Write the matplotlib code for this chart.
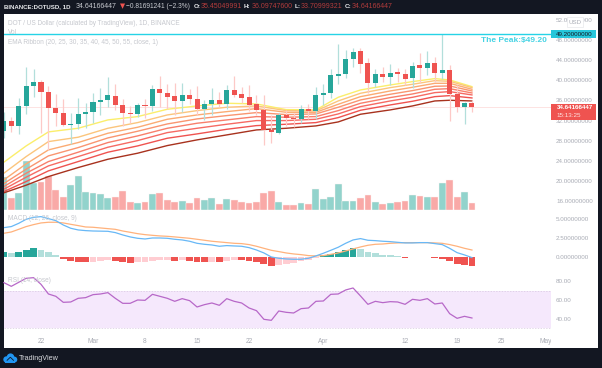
"""
DOT / USD daily chart with EMA ribbon, volume, MACD and RSI panes.
Output: out.png
"""
import matplotlib
matplotlib.use("Agg")
import matplotlib.pyplot as plt
from matplotlib.patches import Rectangle, Ellipse, Polygon
from matplotlib.transforms import Bbox, TransformedBbox

W, H = 602, 368
plt.rcParams['font.family'] = ['Liberation Sans', 'DejaVu Sans']

# === Data (day 0 = 22 Feb) ===
days = list(range(-5, 59))
opens = [29.93, 31.92, 30.99, 34.83, 38.94, 39.60, 37.68, 34.50, 33.58, 31.13, 31.32, 33.38, 33.71, 35.63, 36.09,
         36.95, 35.10, 33.58, 33.31, 35.03, 34.90, 38.21, 37.55, 36.89, 35.96, 37.02, 36.36, 34.24, 35.30, 36.09,
         35.23, 38.15, 37.22, 36.69, 35.23, 34.17, 30.20, 29.60, 33.11, 32.52, 32.25, 34.30, 33.91, 37.02, 37.42,
         40.93, 41.32, 44.24, 45.76, 43.38, 39.47, 41.32, 40.73, 41.59, 41.26, 40.40, 42.98, 42.38, 43.44, 41.39,
         42.05, 37.35, 34.77, 35.45]
highs = [33.77, 32.78, 36.56, 42.65, 42.32, 40.07, 38.87, 37.22, 36.29, 33.58, 36.49, 35.43, 37.48, 38.48, 40.73,
         39.34, 36.29, 34.90, 35.56, 36.29, 39.07, 40.86, 39.27, 39.40, 39.40, 38.28, 38.87, 36.09, 38.54, 37.75,
         39.07, 40.86, 38.61, 39.07, 37.09, 37.09, 33.11, 33.44, 34.11, 33.44, 35.10, 35.30, 38.74, 39.27, 42.19,
         47.22, 46.03, 46.49, 46.49, 44.37, 42.25, 42.72, 43.25, 42.38, 42.19, 43.64, 45.36, 45.89, 44.57, 49.20,
         42.98, 39.07, 35.76, 36.10]
lows = [28.54, 29.80, 29.27, 33.38, 36.75, 29.47, 26.16, 30.93, 30.93, 27.35, 30.40, 30.46, 31.46, 33.11, 34.64,
        34.11, 30.93, 31.59, 32.78, 32.45, 33.97, 34.77, 34.24, 33.11, 33.77, 35.30, 33.11, 32.12, 33.11, 34.77,
        34.24, 36.75, 35.43, 33.97, 33.11, 27.15, 27.48, 29.34, 30.93, 30.79, 31.46, 32.38, 32.25, 35.10, 36.42,
        39.21, 40.40, 42.72, 41.39, 37.42, 38.61, 39.74, 39.07, 39.60, 39.07, 38.41, 39.40, 41.06, 39.60, 40.20,
        31.99, 33.77, 31.32, 33.71]
closes = [31.92, 30.99, 34.83, 38.87, 39.60, 37.62, 34.44, 33.58, 31.13, 31.39, 33.38, 33.77, 35.63, 36.09, 37.02,
          35.03, 33.44, 33.31, 35.03, 34.90, 38.21, 37.48, 36.75, 35.89, 37.02, 36.36, 34.24, 35.36, 36.09, 35.23,
          38.15, 37.15, 36.56, 35.03, 34.17, 30.20, 29.67, 33.18, 32.45, 32.25, 34.24, 33.91, 37.02, 37.42, 40.99,
          41.32, 44.17, 45.70, 43.25, 39.47, 41.32, 40.73, 41.52, 41.26, 40.33, 42.91, 42.38, 43.44, 41.46, 42.05,
          37.35, 34.70, 35.43, 34.64]

# relative volume, no scale is shown for it on the chart
volume = [33.0, 12.3, 16.7, 49.0, 27.3, 28.3, 34.3, 20.0, 12.7, 25.0, 34.3, 17.7, 16.7, 15.7, 12.3,
          12.7, 19.0, 8.0, 7.3, 8.0, 15.7, 17.0, 10.0, 8.3, 9.0, 6.7, 12.3, 10.0, 12.0, 6.0,
          11.0, 9.7, 8.0, 7.3, 8.3, 17.0, 19.3, 7.7, 5.0, 4.7, 6.7, 5.7, 20.7, 11.0, 13.3,
          25.7, 9.3, 9.0, 12.3, 15.0, 7.7, 5.7, 6.7, 8.0, 9.0, 14.7, 14.3, 13.3, 12.7, 27.0,
          30.3, 12.7, 17.7, 6.7]

ema_days = [-5, -2, 1, 5, 9, 13, 17, 21, 25, 29, 33, 37, 40, 43, 47, 50, 53, 55, 58]
ema20 = [23.71, 26.95, 29.74, 30.46, 32.12, 32.78, 34.24, 34.90, 35.43, 35.30, 34.17, 34.11, 36.62, 38.08, 39.07, 39.74, 40.33, 40.07, 38.74]
ema25 = [21.52, 24.83, 27.81, 28.68, 30.46, 31.59, 33.11, 33.97, 34.64, 34.90, 33.97, 33.91, 35.89, 37.42, 38.54, 39.21, 39.93, 39.80, 38.54]
ema30 = [20.20, 23.38, 26.16, 27.62, 29.47, 30.66, 32.25, 33.11, 33.77, 34.37, 33.64, 33.64, 35.23, 36.75, 37.88, 38.61, 39.40, 39.40, 38.21]
ema35 = [19.47, 22.32, 24.97, 26.62, 28.54, 29.87, 31.32, 32.32, 32.98, 33.58, 33.18, 33.31, 34.64, 36.09, 37.22, 37.95, 38.81, 38.87, 37.88]
ema40 = [18.87, 21.52, 23.84, 25.70, 27.62, 28.94, 30.46, 31.46, 32.12, 32.78, 32.65, 32.78, 33.97, 35.43, 36.56, 37.28, 38.21, 38.34, 37.48]
ema45 = [18.34, 20.73, 22.98, 24.83, 26.69, 28.01, 29.60, 30.46, 31.26, 31.99, 31.99, 32.25, 33.31, 34.77, 35.89, 36.62, 37.55, 37.75, 37.09]
ema50 = [17.88, 19.87, 21.99, 23.84, 25.70, 26.95, 28.48, 29.34, 30.26, 30.99, 31.26, 31.59, 32.58, 34.04, 35.10, 35.83, 36.75, 36.95, 36.49]
ema55 = [17.62, 19.14, 20.86, 22.65, 24.30, 25.50, 27.02, 28.15, 29.14, 30.13, 30.46, 30.93, 31.72, 33.25, 34.11, 34.90, 35.89, 36.03, 35.89]

macd = [3.90, 4.04, 4.47, 5.00, 5.26, 5.35, 5.09, 4.82, 4.25, 3.82, 3.60, 3.51, 3.46, 3.44, 3.42, 3.25,
        2.94, 2.68, 2.50, 2.41, 2.54, 2.54, 2.50, 2.37, 2.28, 2.11, 1.84, 1.71, 1.62, 1.45, 1.54, 1.49,
        1.45, 1.27, 0.96, 0.57, 0.04, -0.13, -0.22, -0.26, -0.26, -0.13, 0.18, 0.53, 0.92, 1.32, 1.84, 2.28,
        2.46, 2.24, 2.19, 2.11, 2.06, 1.97, 1.89, 1.89, 1.93, 1.93, 1.80, 1.67, 1.18, 0.61, 0.31, -0.04]
signal = [3.16, 3.33, 3.68, 4.04, 4.30, 4.52, 4.61, 4.61, 4.52, 4.34, 4.17, 3.99, 3.95, 3.86, 3.77, 3.68,
          3.46, 3.29, 3.11, 2.98, 2.89, 2.81, 2.76, 2.68, 2.59, 2.50, 2.37, 2.24, 2.11, 2.02, 1.93, 1.84,
          1.80, 1.67, 1.45, 1.18, 0.92, 0.75, 0.57, 0.44, 0.35, 0.22, 0.18, 0.22, 0.39, 0.57, 0.83, 1.10,
          1.36, 1.58, 1.71, 1.75, 1.84, 1.89, 1.93, 1.93, 1.93, 1.93, 1.89, 1.84, 1.67, 1.45, 1.18, 0.96]
hist = [0.70, 0.57, 0.75, 1.01, 1.18, 1.01, 0.66, 0.26, -0.18, -0.53, -0.61, -0.64, -0.57, -0.48, -0.31, -0.44,
        -0.61, -0.79, -0.66, -0.61, -0.44, -0.35, -0.31, -0.44, -0.35, -0.44, -0.61, -0.66, -0.57, -0.61, -0.44, -0.35,
        -0.39, -0.48, -0.57, -0.92, -1.10, -0.96, -0.88, -0.79, -0.48, -0.35, -0.04, 0.26, 0.44, 0.66, 0.92, 1.18,
        1.05, 0.70, 0.53, 0.35, 0.26, 0.13, -0.04, 0.09, 0.04, 0.04, -0.13, -0.18, -0.53, -0.92, -1.05, -1.18]

rsi = [78.57, 74.64, 78.93, 83.21, 83.93, 76.79, 66.43, 63.93, 57.50, 57.86, 61.79, 62.50, 65.71, 66.43, 67.86, 61.79,
       56.43, 56.43, 60.00, 59.64, 66.07, 63.93, 61.79, 58.57, 61.43, 59.29, 52.50, 55.00, 56.79, 54.29, 61.43, 58.57,
       56.79, 51.43, 48.57, 39.29, 38.21, 48.21, 46.79, 46.07, 50.71, 51.43, 58.57, 58.93, 66.07, 66.43, 70.71, 72.86,
       64.29, 55.36, 58.57, 57.14, 58.21, 57.86, 55.36, 60.71, 59.64, 61.43, 55.71, 56.79, 45.36, 40.36, 42.50, 40.71]

price_ticks = [16, 20, 24, 28, 32, 36, 40, 44, 48, 52]
macd_ticks = [0, 2.5, 5]
rsi_ticks = [40, 60, 80]
date_ticks = [0, 7, 14, 21, 28, 38, 49, 56, 62, 68]
date_labels = ['22', 'Mar', '8', '15', '22', 'Apr', '12', '19', '25', 'May']
peak = 49.20
last_close = 34.64166447

# === Colours ===
BG = '#131722'
UP, DOWN = '#26a69a', '#ef5350'
UP_WICK, DOWN_WICK = '#b2dfdb', '#fdc9c7'
UP_VOL, DOWN_VOL = '#92d3cc', '#f9a9a7'
UP_PALE, DOWN_PALE = '#b2dfdb', '#ffcdd2'
CYAN = '#26d3e6'
AXIS_TXT = '#a9acb5'
LEGEND_TXT = '#c6c8ce'
EMA_COLORS = ['#fbee6b', '#fbc57c', '#fbab73', '#f99570', '#f87f6b', '#f66a63', '#ef5350', '#a8321e']

fig = plt.figure(figsize=(W / 100, H / 100), dpi=100, facecolor=BG)


def fx(px):
    return px / W


def fy(py):
    return 1 - py / H


def pane(left, top, right, bottom):
    ax = fig.add_axes([fx(left), fy(bottom), (right - left) / W, (bottom - top) / H])
    ax.patch.set_alpha(0)
    for s in ax.spines.values():
        s.set_visible(False)
    ax.set_xlim(-4.98, 68.64)
    ax.set_xticks([])
    ax.yaxis.tick_right()
    ax.tick_params(axis='y', length=0, pad=3.6, labelsize=4.5, labelcolor=AXIS_TXT)
    return ax


# white chart panel behind all panes
fig.add_artist(Rectangle((fx(4), fy(347.5)), 594 / W, 333.5 / H, transform=fig.transFigure,
                         facecolor='white', edgecolor='none', zorder=-1))

# === Volume ===
ax_vol = pane(4, 14, 551, 210)
ax_vol.set_ylim(0, 196)
ax_vol.set_yticks([])
vol_colors = [UP_VOL if c >= o else DOWN_VOL for o, c in zip(opens, closes)]
ax_vol.bar(days, volume, width=0.92, color=vol_colors, edgecolor='#fdf3f2', linewidth=0.3)

# === Price ===
ax = pane(4, 14, 551, 210)
ax.set_ylim(14.21, 53.18)
ax.set_yticks(price_ticks)
ax.set_yticklabels([f'{t:.8f}' for t in price_ticks])
ax.axhline(last_close, color='#fde3e2', linewidth=0.7, zorder=1)

for vals, col in zip([ema20, ema25, ema30, ema35, ema40, ema45, ema50, ema55], EMA_COLORS):
    ax.plot(ema_days, vals, color=col, linewidth=1.0, zorder=2)

for d, o, h, l, c in zip(days, opens, highs, lows, closes):
    up = c >= o
    ax.vlines(d, l, h, color=UP_WICK if up else DOWN_WICK, linewidth=0.9, zorder=3)
    ax.bar(d, abs(c - o), bottom=min(o, c), width=0.68, color=UP if up else DOWN, zorder=4)

ax.axhline(peak, color=CYAN, linewidth=1.0, zorder=5)
ax.text(68.06, peak - 1.19, 'The Peak:$49.20', color='#45d3e4', fontsize=6.0, fontweight='bold',
        ha='right', va='center', zorder=6)

# === MACD ===
ax_macd = pane(4, 212, 551, 274)
ax_macd.set_ylim(-2.2, 5.96)
ax_macd.set_yticks(macd_ticks)
ax_macd.set_yticklabels([f'{t:.8f}' for t in macd_ticks])
hist_colors = []
for i, v in enumerate(hist):
    prev = hist[i - 1] if i else v
    if v >= 0:
        hist_colors.append(UP if v >= prev else UP_PALE)
    else:
        hist_colors.append(DOWN if v <= prev else DOWN_PALE)
ax_macd.bar(days, hist, width=0.92, color=hist_colors)
ax_macd.plot(days, signal, color='#ffb27c', linewidth=0.9)
ax_macd.plot(days, macd, color='#68b8f6', linewidth=0.9)

# === RSI ===
ax_rsi = pane(4, 276, 551, 332)
ax_rsi.set_ylim(25.7, 85.7)
ax_rsi.set_yticks(rsi_ticks)
ax_rsi.set_yticklabels([f'{t:.2f}' for t in rsi_ticks])
ax_rsi.axhspan(30, 70, facecolor='#f5e8fc', edgecolor='none')
ax_rsi.axhline(70, color='#d8c8e0', linewidth=0.5, linestyle=(0, (2, 2)))
ax_rsi.axhline(30, color='#d8c8e0', linewidth=0.5, linestyle=(0, (2, 2)))
ax_rsi.plot(days, rsi, color='#b768c8', linewidth=0.9, clip_on=False)

ax_rsi.set_xticks(date_ticks)
ax_rsi.set_xticklabels(date_labels)
ax_rsi.tick_params(axis='x', length=0, pad=4.6, labelsize=4.8, labelcolor=AXIS_TXT)
clip = TransformedBbox(Bbox([[0, 0], [fx(551), 1]]), fig.transFigure)
for lab in ax_rsi.get_xticklabels():
    lab.set_clip_box(clip)
    lab.set_clip_on(True)


# === Header row on the dark strip ===
def txt(px, py, s, color, size=4.9, weight='normal', **kw):
    return fig.text(fx(px), fy(py), s, color=color, fontsize=size, fontweight=weight, va='center', **kw)


HDR_RED = '#b23c3c'
txt(3.5, 6.6, 'BINANCE:DOTUSD, 1D', '#e8e9ec', weight='bold', size=4.4)
txt(75.7, 6.6, '34.64166447', '#c8cad0', size=5.0)
txt(119.5, 6.6, '▼', '#ef5350', size=4.8, family=['DejaVu Sans'])
txt(126, 6.6, '−0.81691241 (−2.3%)', '#c8cad0', size=4.8)
txt(193.5, 6.6, 'O:', '#e8e9ec', weight='bold', size=4.6)
txt(200.7, 6.6, '35.45049991', HDR_RED, size=5.0)
txt(244, 6.6, 'H:', '#e8e9ec', weight='bold', size=4.6)
txt(252, 6.6, '36.09747600', HDR_RED, size=5.0)
txt(294.7, 6.6, 'L:', '#e8e9ec', weight='bold', size=4.6)
txt(300.5, 6.6, '33.70999321', HDR_RED, size=5.0)
txt(344.3, 6.6, 'C:', '#e8e9ec', weight='bold', size=4.6)
txt(351.7, 6.6, '34.64166447', HDR_RED, size=5.0)

# === Pane legends ===
txt(8, 23.5, 'DOT / US Dollar (calculated by TradingView), 1D, BINANCE', LEGEND_TXT, size=4.7)
txt(8, 32.3, 'Vol', LEGEND_TXT, size=4.7)
txt(8, 42, 'EMA Ribbon (20, 25, 30, 35, 40, 45, 50, 55, close, 1)', LEGEND_TXT, size=4.7)
txt(8, 219, 'MACD (12, 26, close, 9)', LEGEND_TXT, size=4.7)
txt(8, 280.5, 'RSI (14, close)', LEGEND_TXT, size=4.7)

# === Price scale boxes ===
fig.add_artist(Rectangle((fx(551), fy(38.3)), 45 / W, 8.6 / H, transform=fig.transFigure,
                         facecolor='#26c6da', edgecolor='none', zorder=4))
txt(556, 34, '49.20000000', BG, size=4.5, zorder=5)
fig.add_artist(Rectangle((fx(551), fy(120)), 45 / W, 16.5 / H, transform=fig.transFigure,
                         facecolor='#ef5350', edgecolor='none', zorder=4))
txt(556.5, 107.7, '34.64166447', 'white', size=4.5, weight='bold', zorder=5)
txt(556.5, 115.5, '15:13:25', '#fde3e2', size=4.5, zorder=5)
fig.add_artist(Rectangle((fx(566.8), fy(26.8)), 16 / W, 9.6 / H, transform=fig.transFigure,
                         facecolor='white', edgecolor='#e8e9ec', linewidth=0.5, zorder=4))
txt(574.8, 22.2, 'USD', AXIS_TXT, size=4.4, ha='center', zorder=5)

# === TradingView logo in the footer ===
LOGO = '#2196f3'
for cx, cy, r in [(6.5, 359.5, 3.2), (10.5, 357.2, 3.8), (14.3, 359.6, 3.0)]:
    fig.add_artist(Ellipse((fx(cx), fy(cy)), 2 * r / W, 2 * r / H, transform=fig.transFigure,
                           facecolor=LOGO, edgecolor='none', zorder=4))
fig.add_artist(Rectangle((fx(5), fy(362.6)), 10 / W, 3 / H, transform=fig.transFigure,
                         facecolor=LOGO, edgecolor='none', zorder=4))
fig.add_artist(Polygon([(fx(6.8), fy(360.6)), (fx(10.3), fy(357.2)), (fx(13.8), fy(360.6))], closed=False,
                       transform=fig.transFigure, fill=False, edgecolor=BG, linewidth=0.6, zorder=5))
txt(18.5, 358, 'TradingView', '#d8d9dd', size=5.2, zorder=5)

fig.savefig('out.png', dpi=100, facecolor=BG)
print("Saved: out.png")
